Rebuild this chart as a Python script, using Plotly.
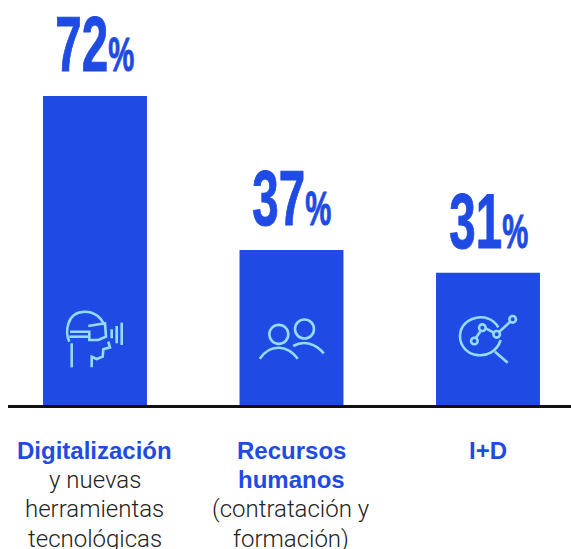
import plotly.graph_objects as go

categories = ["Digitalización", "Recursos humanos", "I+D"]
bar_values = [72, 36.1, 30.8]
value_labels = ["72", "37", "31"]
bold_lines = [["Digitalización"], ["Recursos", "humanos"], ["I+D"]]
regular_lines = [["y nuevas", "herramientas", "tecnológicas"], ["(contratación y", "formación)"], []]

BLUE = "#1f4be4"
ICON = "#93dcff"
SANS = "Liberation Sans"
x_pos = list(range(len(categories)))

fig = go.Figure(go.Bar(x=x_pos, y=bar_values, width=0.529, marker=dict(color=BLUE, line_width=0), hoverinfo="skip"))

annotations = []
for i, (v, lab) in enumerate(zip(bar_values, value_labels)):
    annotations.append(dict(x=i, y=v, xref="x", yref="y", xanchor="center", yanchor="bottom", yshift=6, showarrow=False,
                            text=f"<b>{lab}<span style='font-size:48px'>%</span></b>",
                            font=dict(family=SANS, size=78, color=BLUE)))
    lines = [(t, True) for t in bold_lines[i]] + [(t, False) for t in regular_lines[i]]
    for j, (t, bold) in enumerate(lines):
        annotations.append(dict(x=i, y=0, xref="x", yref="y", xanchor="center", yanchor="middle",
                                yshift=-45.5 - j * 29.4, showarrow=False,
                                text=f"<b>{t}</b>" if bold else t,
                                font=dict(family=SANS if bold else "Roboto", size=24,
                                          weight=400 if bold else 300,
                                          color=BLUE if bold else "#222222")))


def path_shape(idx, d):
    return dict(type="path", xref="x", yref="y", xsizemode="pixel", ysizemode="pixel", xanchor=idx, yanchor=0,
                path=d, line=dict(color=ICON, width=2.6), fillcolor="rgba(0,0,0,0)", layer="above")


def circle_shape(idx, cx, cy, r):
    return dict(type="circle", xref="x", yref="y", xsizemode="pixel", ysizemode="pixel", xanchor=idx, yanchor=0,
                x0=cx - r, x1=cx + r, y0=cy - r, y1=cy + r, line=dict(color=ICON, width=2.6),
                fillcolor="rgba(0,0,0,0)", layer="above")


def converter(ox, oy, centre):
    """Zoomed-crop coordinates to pixels relative to a bar's base centre."""
    def conv(zx, zy):
        return ox + zx / 3 - centre, 405 - (oy + zy / 3)
    return conv


def seq(conv, segs):
    out = []
    for letter, *pts in segs:
        out.append(letter + " ".join("%.1f %.1f" % conv(*p) for p in pts))
    return " ".join(out)


c0 = converter(40, 290, 95)
vr = [
    [("M", (88, 155)), ("C", (75, 130), (78, 65), (135, 65)), ("C", (165, 65), (185, 85), (192, 105))],
    [("M", (145, 108)), ("L", (195, 100)), ("L", (198, 140)), ("L", (175, 150)), ("L", (148, 150)), ("L", (148, 125)), ("L", (90, 125))],
    [("M", (88, 140)), ("L", (148, 140))],
    [("M", (95, 160)), ("L", (95, 232))],
    [("M", (205, 155)), ("L", (210, 172)), ("L", (190, 178)), ("L", (188, 200)), ("L", (170, 207)), ("L", (155, 200)), ("L", (155, 232))],
    [("M", (215, 118)), ("L", (215, 145))],
    [("M", (230, 108)), ("L", (230, 160))],
    [("M", (245, 98)), ("L", (245, 165))],
]
shapes = [path_shape(0, seq(c0, s)) for s in vr]

c1 = converter(240, 300, 291)
for zx, zy in [(115, 103), (192, 87)]:
    cx, cy = c1(zx, zy)
    shapes.append(circle_shape(1, cx, cy, 9.5))
for s in [[("M", (58, 176)), ("C", (90, 130), (140, 135), (172, 176))],
          [("M", (158, 138)), ("C", (190, 120), (225, 130), (250, 160))]]:
    shapes.append(path_shape(1, seq(c1, s)))

c2 = converter(240, 300, 488)
for s in [[("M", (775, 82)), ("C", (745, 30), (660, 50), (660, 108)), ("C", (660, 175), (760, 190), (782, 120))],
          [("M", (765, 155)), ("L", (803, 188))],
          [("M", (708, 113)), ("L", (722, 93))],
          [("M", (737, 85)), ("L", (760, 97))],
          [("M", (778, 95)), ("L", (810, 66))]]:
    shapes.append(path_shape(2, seq(c2, s)))
for zx, zy in [(703, 123), (727, 83), (770, 103), (818, 58)]:
    cx, cy = c2(zx, zy)
    shapes.append(circle_shape(2, cx, cy, 3.3))

fig.update_layout(
    width=571, height=549, autosize=False,
    margin=dict(l=8, r=0, t=0, b=144, pad=0),
    paper_bgcolor="white", plot_bgcolor="white", showlegend=False,
    annotations=annotations, shapes=shapes,
    xaxis=dict(range=[-0.4427, 2.4224], showgrid=False, zeroline=False, showticklabels=False, ticks="",
               showline=True, linecolor="#111111", linewidth=2.5),
    yaxis=dict(range=[0, 94.4], visible=False),
)

post = """
document.body.style.margin = '0';
document.querySelectorAll('.annotation-text').forEach(function (t) {
  if (parseFloat(t.style.fontSize) > 60) {
    t.style.transformBox = 'fill-box';
    t.style.transformOrigin = 'center';
    t.style.transform = 'scaleX(0.61)';
    t.style.stroke = '#1f4be4';
    t.style.strokeWidth = '1px';
  }
});
"""
fig.write_html("out.html", config={"displayModeBar": False}, post_script=post)
